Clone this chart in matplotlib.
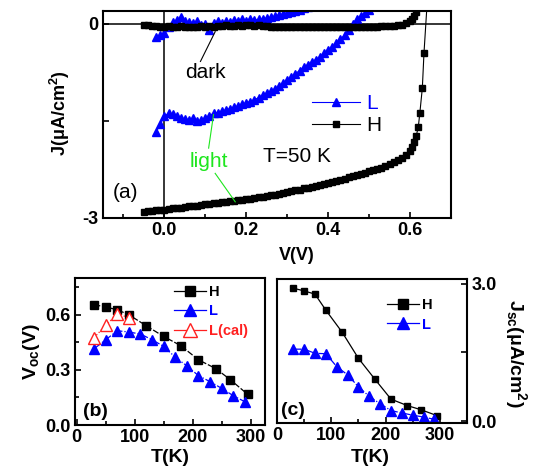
import numpy as np
import matplotlib
matplotlib.use('Agg')
import matplotlib.pyplot as plt
from matplotlib.lines import Line2D

plt.rcParams['font.family'] = ['Liberation Sans', 'DejaVu Sans']
plt.rcParams['mathtext.fontset'] = 'custom'
plt.rcParams['mathtext.bf'] = 'Liberation Sans:bold'
plt.rcParams['mathtext.rm'] = 'Liberation Sans:bold'
plt.rcParams['mathtext.default'] = 'bf'
plt.rcParams['axes.linewidth'] = 1.5

# ---- panel (a): J-V curves at T=50 K ----
# H, light
v_light_H = [-0.05, -0.04, -0.03, -0.02, -0.01, 0.00, 0.01, 0.02, 0.03, 0.04,
             0.05, 0.06, 0.07, 0.08, 0.09, 0.10, 0.11, 0.12, 0.13, 0.14,
             0.15, 0.16, 0.17, 0.18, 0.19, 0.20, 0.21, 0.22, 0.23, 0.24,
             0.25, 0.26, 0.27, 0.28, 0.29, 0.30, 0.31, 0.32, 0.33, 0.34,
             0.35, 0.36, 0.37, 0.38, 0.39, 0.40, 0.41, 0.42, 0.43, 0.44,
             0.45, 0.46, 0.47, 0.48, 0.49, 0.50, 0.51, 0.52, 0.53, 0.54,
             0.55, 0.56, 0.57, 0.58, 0.59, 0.60, 0.605, 0.61, 0.615, 0.62,
             0.624, 0.630, 0.634, 0.642]
j_light_H = [-2.90, -2.89, -2.89, -2.88, -2.88, -2.87, -2.86, -2.85, -2.85, -2.84,
             -2.83, -2.82, -2.81, -2.81, -2.80, -2.79, -2.78, -2.77, -2.77, -2.76,
             -2.75, -2.74, -2.73, -2.72, -2.72, -2.71, -2.70, -2.69, -2.68, -2.67,
             -2.66, -2.65, -2.64, -2.63, -2.61, -2.60, -2.59, -2.57, -2.56, -2.54,
             -2.53, -2.52, -2.50, -2.49, -2.47, -2.46, -2.44, -2.43, -2.41, -2.39,
             -2.37, -2.35, -2.34, -2.32, -2.30, -2.28, -2.26, -2.24, -2.22, -2.20,
             -2.17, -2.14, -2.11, -2.08, -2.03, -1.96, -1.90, -1.83, -1.73, -1.60,
             -1.37, -0.99, -0.45, 0.35]
# H, dark
v_dark_H = [-0.05, -0.04, -0.03, -0.02, -0.01, 0.00, 0.01, 0.02, 0.03, 0.04,
            0.05, 0.06, 0.07, 0.08, 0.09, 0.10, 0.11, 0.12, 0.13, 0.14,
            0.15, 0.16, 0.17, 0.18, 0.19, 0.20, 0.21, 0.22, 0.23, 0.24,
            0.25, 0.26, 0.27, 0.28, 0.29, 0.30, 0.31, 0.32, 0.33, 0.34,
            0.35, 0.36, 0.37, 0.38, 0.39, 0.40, 0.41, 0.42, 0.43, 0.44,
            0.45, 0.46, 0.47, 0.48, 0.49, 0.50, 0.51, 0.52, 0.53, 0.54,
            0.55, 0.56, 0.57, 0.58, 0.59, 0.60, 0.605, 0.61, 0.615, 0.62]
j_dark_H = [-0.02, -0.02, -0.03, -0.03, -0.04, -0.04, -0.03, -0.04, -0.04, -0.03,
            -0.04, -0.05, -0.04, -0.04, -0.03, -0.04, -0.03, -0.04, -0.03, -0.03,
            -0.02, -0.03, -0.03, -0.02, -0.03, -0.02, -0.02, -0.03, -0.02, -0.03,
            -0.03, -0.04, -0.04, -0.05, -0.04, -0.04, -0.05, -0.04, -0.04, -0.05,
            -0.04, -0.04, -0.05, -0.05, -0.04, -0.04, -0.05, -0.05, -0.04, -0.04,
            -0.05, -0.04, -0.04, -0.04, -0.05, -0.04, -0.04, -0.04, -0.03, -0.03,
            -0.03, -0.03, -0.02, -0.01, 0.01, 0.04, 0.07, 0.12, 0.18, 0.30]
# L, light
v_light_L = [-0.02, -0.01, 0.00, 0.01, 0.02, 0.03, 0.04, 0.05, 0.06, 0.07,
             0.08, 0.09, 0.10, 0.11, 0.12, 0.13, 0.14, 0.15, 0.16, 0.17,
             0.18, 0.19, 0.20, 0.21, 0.22, 0.23, 0.24, 0.25, 0.26, 0.27,
             0.28, 0.29, 0.30, 0.31, 0.32, 0.33, 0.34, 0.35, 0.36, 0.37,
             0.38, 0.39, 0.40, 0.41, 0.42, 0.43, 0.44, 0.45, 0.46, 0.47,
             0.48, 0.49, 0.50]
j_light_L = [-1.67, -1.55, -1.43, -1.38, -1.40, -1.42, -1.45, -1.47, -1.48, -1.46,
             -1.50, -1.49, -1.45, -1.42, -1.38, -1.37, -1.35, -1.33, -1.31, -1.29,
             -1.27, -1.24, -1.22, -1.20, -1.17, -1.14, -1.10, -1.07, -1.04, -1.00,
             -0.96, -0.92, -0.87, -0.82, -0.77, -0.72, -0.67, -0.63, -0.59, -0.55,
             -0.51, -0.45, -0.40, -0.35, -0.30, -0.24, -0.17, -0.09, 0.00, 0.08,
             0.13, 0.17, 0.21]
# L, dark
v_dark_L = [-0.02, -0.01, 0.00, 0.01, 0.02, 0.03, 0.04, 0.05, 0.06, 0.07,
            0.08, 0.09, 0.10, 0.11, 0.12, 0.13, 0.14, 0.15, 0.16, 0.17,
            0.18, 0.19, 0.20, 0.21, 0.22, 0.23, 0.24, 0.25, 0.26, 0.27,
            0.28, 0.29, 0.30, 0.31, 0.32, 0.33, 0.34, 0.35]
j_dark_L = [-0.20, -0.17, -0.14, -0.05, 0.03, 0.06, 0.10, 0.05, 0.03, 0.02,
            0.04, -0.02, 0.00, -0.10, 0.02, 0.04, 0.02, 0.05, 0.03, 0.06,
            0.04, 0.07, 0.05, 0.08, 0.06, 0.07, 0.08, 0.09, 0.10, 0.12,
            0.14, 0.15, 0.17, 0.18, 0.20, 0.22, 0.24, 0.26]

# ---- panel (b): Voc vs T ----
t_voc_H = [30, 50, 70, 90, 120, 150, 180, 210, 240, 265, 295]
voc_H = [0.655, 0.642, 0.627, 0.60, 0.54, 0.482, 0.431, 0.355, 0.307, 0.247, 0.167]
t_L = [30, 50, 70, 90, 110, 130, 150, 170, 190, 210, 230, 250, 270, 290]
voc_L = [0.415, 0.464, 0.513, 0.506, 0.495, 0.464, 0.428, 0.369, 0.322, 0.269,
         0.236, 0.200, 0.160, 0.127]
t_cal = [30, 50, 70, 90]
voc_cal = [0.476, 0.542, 0.604, 0.585]

# ---- panel (c): Jsc vs T ----
t_jsc_H = [30, 50, 70, 90, 120, 150, 180, 210, 240, 265, 295]
jsc_H = [2.90, 2.84, 2.77, 2.42, 1.94, 1.37, 0.92, 0.48, 0.34, 0.25, 0.12]
jsc_L = [1.57, 1.57, 1.48, 1.47, 1.19, 1.01, 0.75, 0.54, 0.38, 0.23,
         0.18, 0.13, 0.09, 0.04]

blue = '#0000ff'
red = '#ff2020'
green = '#1ee61e'
tick_font = dict(fontsize=13, fontweight='bold')

fig = plt.figure(figsize=(5.38, 4.74), dpi=100)
ax_a = fig.add_axes([103/538, 1-218/474, 348/538, 207/474])
ax_b = fig.add_axes([75/538, 1-425/474, 190/538, 147/474])
ax_c = fig.add_axes([277/538, 1-423/474, 190/538, 144/474])

# panel (a)
ax_a.axhline(0, color='k', lw=1.1, zorder=1)
ax_a.axvline(0, color='k', lw=1.1, zorder=1)
lL, = ax_a.plot(v_light_L, j_light_L, '-', color=blue, marker='^', ms=6.2, lw=0.8, label='L')
ax_a.plot(v_dark_L, j_dark_L, '-', color=blue, marker='^', ms=6.2, lw=0.8)
lH, = ax_a.plot(v_light_H, j_light_H, '-', color='k', marker='s', ms=4.2, lw=0.8, label='H')
ax_a.plot(v_dark_H, j_dark_H, '-', color='k', marker='s', ms=4.2, lw=0.8)
ax_a.set_xlim(-0.15, 0.70)
ax_a.set_ylim(-3.0, 0.2)
ax_a.set_xticks([0.0, 0.2, 0.4, 0.6])
ax_a.set_xticklabels(['0.0', '0.2', '0.4', '0.6'], **tick_font)
ax_a.set_xticks([-0.1, 0.1, 0.3, 0.5], minor=True)
ax_a.set_yticks([-3.0, -1.5, 0.0])
ax_a.set_yticklabels(['-3', '', '0'], **tick_font)
ax_a.tick_params(which='both', direction='in', width=1.2, pad=3)
ax_a.tick_params(which='major', length=4)
ax_a.tick_params(which='minor', length=3)
ax_a.set_xlabel('V(V)', fontsize=13, fontweight='bold')
ax_a.xaxis.set_label_coords(0.557, -0.14)
ax_a.set_ylabel('J(μA/cm$^2$)', fontsize=13, fontweight='bold')
ax_a.yaxis.set_label_coords(-0.089, 0.507)
leg = ax_a.legend(handles=[lL, lH], loc='upper left', bbox_to_anchor=(0.60, 0.60),
                  frameon=False, fontsize=15, handlelength=2.3, handletextpad=0.3,
                  labelspacing=0.15, borderpad=0, borderaxespad=0)
leg.get_texts()[0].set_color(blue)
ax_a.text(0.293, 0.705, 'dark', transform=ax_a.transAxes, fontsize=15,
          ha='center', va='center')
ax_a.plot([0.088, 0.124], [-0.58, -0.12], color='k', lw=0.8)
ax_a.text(0.108, -2.13, 'light', fontsize=15, color=green, ha='center', va='center')
ax_a.plot([0.108, 0.120], [-1.92, -1.40], color=green, lw=0.8)
ax_a.plot([0.124, 0.173], [-2.31, -2.75], color=green, lw=0.8)
ax_a.text(0.323, -2.05, 'T=50 K', fontsize=15, ha='center', va='center')
ax_a.text(-0.095, -2.61, '(a)', fontsize=15, ha='center', va='center')

# panel (b)
ax_b.plot(t_voc_H, voc_H, color='k', marker='s', ms=5.5, lw=0.9, dashes=(5, 1.5))
ax_b.plot(t_L, voc_L, color=blue, marker='^', ms=6.5, lw=0.9, linestyle='-.')
ax_b.plot(t_cal, voc_cal, color=red, marker='^', ms=8, lw=0.9,
          linestyle=':', mfc='white', mec=red)
# legend entries are drawn with solid lines
hb = Line2D([], [], color='k', marker='s', ms=7.7, lw=0.9, label='H')
lb = Line2D([], [], color=blue, marker='^', ms=9, lw=0.9, label='L')
cb = Line2D([], [], color=red, marker='^', ms=10, lw=0.9, mfc='white', mec=red,
            label='L(cal)')
ax_b.set_xlim(-3, 325)
ax_b.set_ylim(0, 0.80)
ax_b.set_xticks([0, 100, 200, 300])
ax_b.set_xticklabels(['0', '100', '200', '300'], **tick_font)
ax_b.set_xticks([50, 150, 250], minor=True)
ax_b.set_yticks([0.0, 0.3, 0.6])
ax_b.set_yticklabels(['0.0', '0.3', '0.6'], **tick_font)
ax_b.set_yticks([0.15, 0.45, 0.75], minor=True)
ax_b.tick_params(which='both', direction='in', width=1.2, pad=3)
ax_b.tick_params(which='major', length=4)
ax_b.tick_params(which='minor', length=3)
ax_b.set_xlabel('T(K)', fontsize=14, fontweight='bold')
ax_b.xaxis.set_label_coords(0.5, -0.165)
ax_b.set_ylabel('V$_{oc}$(V)', fontsize=14, fontweight='bold')
ax_b.yaxis.set_label_coords(-0.174, 0.5)
leg_b = ax_b.legend(handles=[hb, lb, cb], loc='upper left', bbox_to_anchor=(0.52, 0.955),
                    frameon=False, handlelength=2.2, handletextpad=0.2,
                    labelspacing=0.4, borderpad=0, borderaxespad=0,
                    prop=dict(weight='bold', size=10.5))
for txt, c in zip(leg_b.get_texts(), ['k', blue, red]):
    txt.set_color(c)
ax_b.text(0.11, 0.09, '(b)', transform=ax_b.transAxes, fontsize=14,
          fontweight='bold', ha='center', va='center')

# panel (c)
ax_c.plot(t_jsc_H, jsc_H, color='k', marker='s', ms=5, lw=0.9)
ax_c.plot(t_L, jsc_L, color=blue, marker='^', ms=6.5, lw=0.9, linestyle='-.')
hc = Line2D([], [], color='k', marker='s', ms=7.5, lw=0.9, label='H')
lc = Line2D([], [], color=blue, marker='^', ms=9, lw=0.9, label='L')
ax_c.set_xlim(0, 350)
ax_c.set_ylim(-0.04, 3.1)
ax_c.yaxis.tick_right()
ax_c.yaxis.set_label_position('right')
ax_c.set_xticks([0, 100, 200, 300])
ax_c.set_xticklabels(['0', '100', '200', '300'], **tick_font)
ax_c.set_xticks([50, 150, 250], minor=True)
ax_c.set_yticks([0.0, 1.5, 3.0])
ax_c.set_yticklabels(['0.0', '', '3.0'], **tick_font)
ax_c.tick_params(which='both', direction='in', width=1.2, pad=3)
ax_c.tick_params(which='major', length=4)
ax_c.tick_params(which='minor', length=3)
ax_c.set_xlabel('T(K)', fontsize=14, fontweight='bold')
ax_c.xaxis.set_label_coords(0.49, -0.18)
ax_c.set_ylabel('J$_{sc}$(μA/cm$^2$)', fontsize=14, fontweight='bold',
                rotation=270, va='bottom')
ax_c.yaxis.set_label_coords(1.19, 0.486)
leg_c = ax_c.legend(handles=[hc, lc], loc='upper left', bbox_to_anchor=(0.58, 0.87),
                    frameon=False, handlelength=2.2, handletextpad=0.2,
                    labelspacing=0.4, borderpad=0, borderaxespad=0,
                    prop=dict(weight='bold', size=10.5))
leg_c.get_texts()[1].set_color(blue)
ax_c.text(0.086, 0.09, '(c)', transform=ax_c.transAxes, fontsize=14,
          fontweight='bold', ha='center', va='center')

fig.savefig('out.png', dpi=100)
